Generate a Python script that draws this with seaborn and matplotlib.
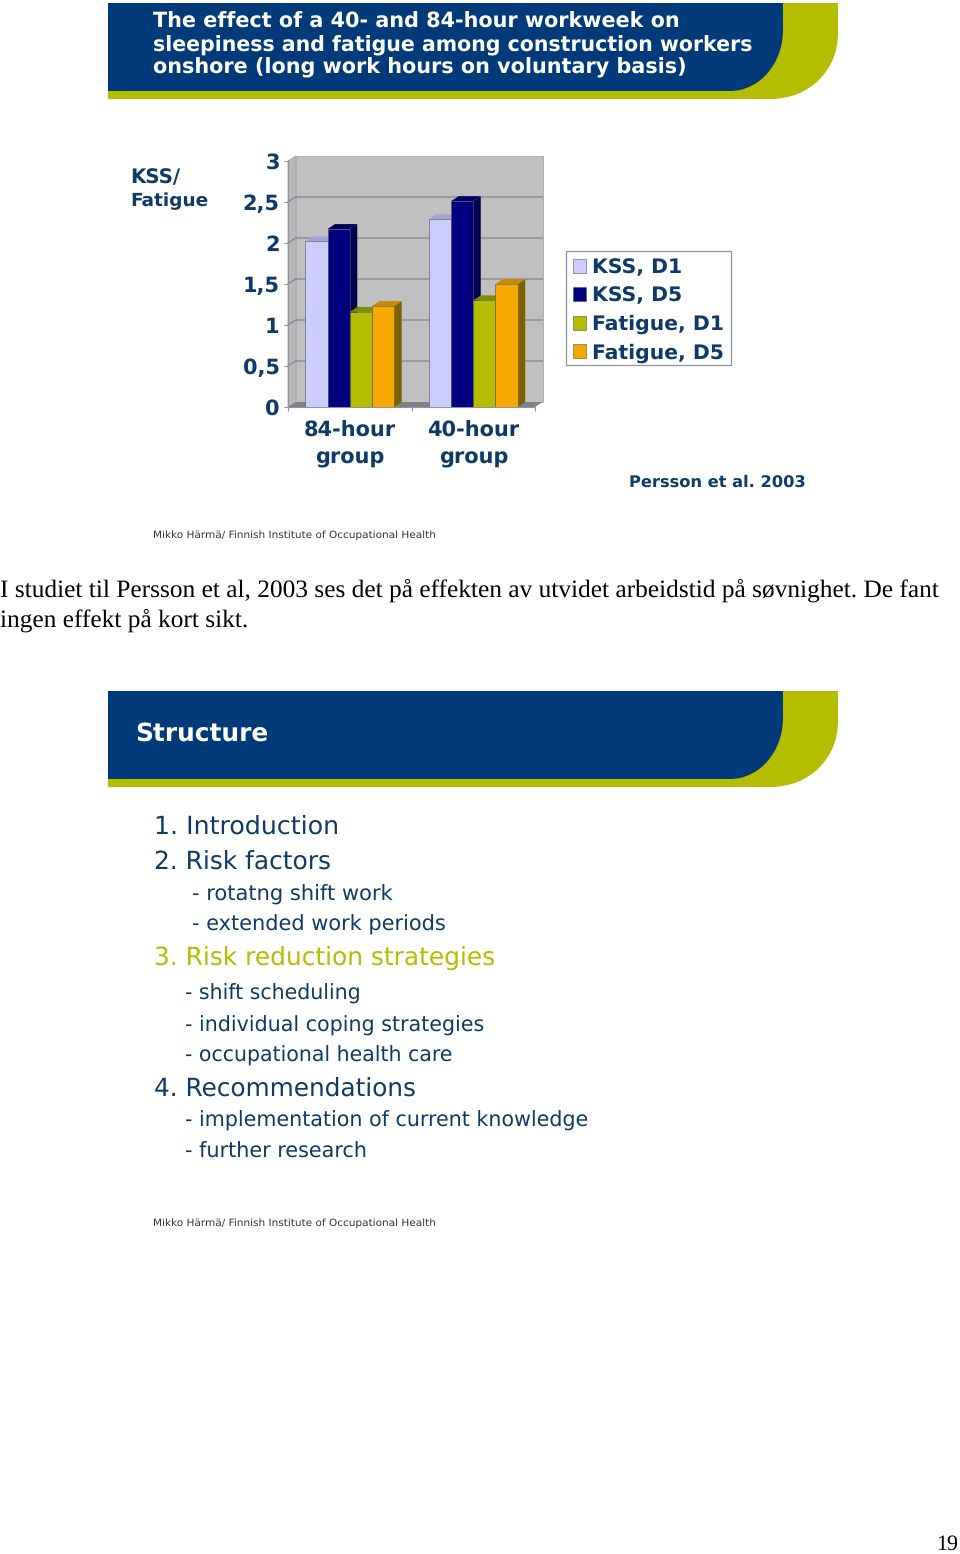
"""Slide page: 3D-look bars of KSS/fatigue by work group, with the two slides' text."""

import matplotlib
matplotlib.use("Agg")
import matplotlib.pyplot as plt
import pandas as pd
import seaborn as sns
from matplotlib.patches import PathPatch, Polygon, Rectangle
from matplotlib.path import Path

W, H = 960, 1554

# data
groups = ["84-hour\ngroup", "40-hour\ngroup"]
series = ["KSS, D1", "KSS, D5", "Fatigue, D1", "Fatigue, D5"]
kss_d1 = [2.02, 2.29]
kss_d5 = [2.17, 2.51]
fatigue_d1 = [1.16, 1.30]
fatigue_d5 = [1.23, 1.50]
y_ticks = [0, 0.5, 1, 1.5, 2, 2.5, 3]
y_tick_labels = ["0", "0,5", "1", "1,5", "2", "2,5", "3"]

NAVY = "#0f3a68"
BANNER_BLUE = "#003a78"
BANNER_GREEN = "#b4bd00"
palette = ["#ccccff", "#000080", "#b4bd00", "#f5a800"]
top_colors = ["#a3a3d6", "#000060", "#7f8a00", "#c48a00"]
side_colors = ["#8f8fb8", "#000050", "#6f7700", "#7f6000"]
AXIS_COLOR = "#8a94a8"
DEPTH_X, DEPTH_Y = 7.5, 5  # px

sns.set_theme(style="white")
plt.rcParams["font.family"] = "DejaVu Sans"
plt.rcParams["text.hinting"] = "no_hinting"

fig = plt.figure(figsize=(W / 100, H / 100), dpi=100, facecolor="white")

# page layer, in pixel coordinates
page = fig.add_axes([0, 0, 1, 1])
page.set_xlim(0, W)
page.set_ylim(H, 0)
page.axis("off")


def fit_text(x0, x1, y, s, color=NAVY, family="DejaVu Sans", weight="normal"):
    t = page.text(x0, y, s, color=color, family=family, weight=weight, va="baseline", fontsize=10)
    w = t.get_window_extent(fig.canvas.get_renderer()).width
    t.set_fontsize(10 * (x1 - x0) / w)
    return t


def banner(y0):
    outer = [(108, y0), (838, y0), (838, y0 + 30), (838, y0 + 67), (810, y0 + 96), (770, y0 + 96),
             (108, y0 + 96), (108, y0)]
    inner = [(108, y0), (783, y0), (783, y0 + 27), (783, y0 + 60), (760, y0 + 88), (730, y0 + 88),
             (108, y0 + 88), (108, y0)]
    codes = [Path.MOVETO, Path.LINETO, Path.LINETO, Path.CURVE4, Path.CURVE4, Path.CURVE4, Path.LINETO,
             Path.CLOSEPOLY]
    page.add_patch(PathPatch(Path(outer, codes), fc=BANNER_GREEN, ec="none"))
    page.add_patch(PathPatch(Path(inner, codes), fc=BANNER_BLUE, ec="none"))


banner(3)
banner(691)

fit_text(153, 678, 28, "The effect of a 40- and 84-hour workweek on", "white", weight="bold")
fit_text(153, 752, 51, "sleepiness and fatigue among construction workers", "white", weight="bold")
fit_text(153, 686, 73, "onshore (long work hours on voluntary basis)", "white", weight="bold")
fit_text(135, 268, 741, "Structure", "white", weight="bold")

fit_text(130, 180, 183, "KSS/", weight="bold")
fit_text(130, 208, 206, "Fatigue", weight="bold")
fit_text(629, 806, 487, "Persson et al. 2003", weight="bold")

for y in (538, 1226):
    fit_text(153, 435, y, "Mikko Härmä/ Finnish Institute of Occupational Health", "#333333")

SERIF = "Liberation Serif"
fit_text(0, 941, 597, "I studiet til Persson et al, 2003 ses det på effekten av utvidet arbeidstid på søvnighet. De fant",
         "black", SERIF)
fit_text(0, 248, 627, "ingen effekt på kort sikt.", "black", SERIF)
fit_text(936, 958, 1550, "19", "black", SERIF)

fit_text(154, 339, 834, "1. Introduction")
fit_text(154, 331, 869, "2. Risk factors")
fit_text(192, 393, 901, "- rotatng shift work")
fit_text(192, 445, 931, "- extended work periods")
fit_text(154, 495, 965, "3. Risk reduction strategies", BANNER_GREEN)
fit_text(185, 361, 1000, "- shift scheduling")
fit_text(185, 484, 1032, "- individual coping strategies")
fit_text(185, 453, 1062, "- occupational health care")
fit_text(154, 416, 1096, "4. Recommendations")
fit_text(185, 589, 1127, "- implementation of current knowledge")
fit_text(185, 367, 1158, "- further research")

# legend frame is drawn apart so its padding can differ per direction
page.add_patch(Rectangle((566, 251), 165, 114, fc="white", ec=AXIS_COLOR, lw=0.9))

# chart axes: front plane of the 3D box
left, right, top, bottom = 288, 535, 161, 407
ax = fig.add_axes([left / W, 1 - bottom / H, (right - left) / W, (bottom - top) / H])
ax.patch.set_visible(False)

df = pd.DataFrame({
    "group": groups * len(series),
    "series": [s for s in series for _ in groups],
    "value": kss_d1 + kss_d5 + fatigue_d1 + fatigue_d5,
})
sns.barplot(data=df, x="group", y="value", hue="series", hue_order=series, palette=palette,
            width=0.72, gap=0, saturation=1, edgecolor="#555555", linewidth=0.4, ax=ax)

ax.set_xlim(-0.5, 1.5)
ax.set_ylim(0, 3)
dx = DEPTH_X * 2 / (right - left)
dy = DEPTH_Y * 3 / (bottom - top)

# back wall, side wall, floor and grid
ax.add_patch(Polygon([(-0.5 + dx, dy), (1.5 + dx, dy), (1.5 + dx, 3 + dy), (-0.5 + dx, 3 + dy)],
                     fc="#c0c0c0", ec="#a8a8a8", lw=0.6, zorder=0.5, clip_on=False))
ax.add_patch(Polygon([(-0.5, 0), (-0.5 + dx, dy), (-0.5 + dx, 3 + dy), (-0.5, 3)],
                     fc="#b8b8b8", ec="#a8a8a8", lw=0.6, zorder=0.6, clip_on=False))
ax.add_patch(Polygon([(-0.5, 0), (1.5, 0), (1.5 + dx, dy), (-0.5 + dx, dy)],
                     fc="#808080", ec="none", zorder=0.6, clip_on=False))
for v in y_ticks[1:-1]:
    ax.plot([-0.5, -0.5 + dx, 1.5 + dx], [v, v + dy, v + dy], color="#7f8794", lw=0.9, zorder=0.7, clip_on=False)

# extruded sides and tops, painted left to right so later bars cover earlier ones
bars = []
for i, container in enumerate(ax.containers):
    bars += [(b, i) for b in container]
bars.sort(key=lambda item: item[0].get_x())
for n, (b, i) in enumerate(bars):
    x0, x1, h = b.get_x(), b.get_x() + b.get_width(), b.get_height()
    z = 2 + n
    ax.add_patch(Polygon([(x1, 0), (x1 + dx, dy), (x1 + dx, h + dy), (x1, h)], fc=side_colors[i], ec="none",
                         zorder=z, clip_on=False))
    ax.add_patch(Polygon([(x0, h), (x1, h), (x1 + dx, h + dy), (x0 + dx, h + dy)], fc=top_colors[i], ec="none",
                         zorder=z, clip_on=False))
    b.set_zorder(z + 0.5)

ax.set_xlabel("")
ax.set_ylabel("")
ax.set_yticks(y_ticks)
ax.set_yticklabels(y_tick_labels)
ax.set_xticks([0, 1])
ax.set_xticklabels(groups, linespacing=1.42)
ax.set_xticks([-0.5, 0.5, 1.5], minor=True)
ax.tick_params(axis="y", length=3, width=0.8, color=AXIS_COLOR, pad=3, left=True, labelsize=15, labelcolor=NAVY)
ax.tick_params(axis="x", which="major", length=0, pad=10, labelsize=15, labelcolor=NAVY)
ax.tick_params(axis="x", which="minor", length=3, width=0.8, color=AXIS_COLOR, bottom=True)
for label in ax.get_xticklabels() + ax.get_yticklabels():
    label.set_fontweight("bold")
for name in ("top", "right"):
    ax.spines[name].set_visible(False)
for name in ("left", "bottom"):
    ax.spines[name].set_color(AXIS_COLOR)
    ax.spines[name].set_linewidth(0.8)
    ax.spines[name].set_zorder(1)

handles, labels = ax.get_legend_handles_labels()
ax.get_legend().remove()
fig.legend(handles, labels, loc="upper left", bbox_to_anchor=(573 / W, 1 - 258 / H),
           bbox_transform=fig.transFigure, frameon=False,
           prop={"family": "DejaVu Sans", "weight": "bold", "size": 14.7}, labelcolor=NAVY,
           handlelength=0.66, handleheight=0.66, handletextpad=0.25, labelspacing=0.44,
           borderpad=0, borderaxespad=0)

fig.savefig("out.png", dpi=100, facecolor="white")
